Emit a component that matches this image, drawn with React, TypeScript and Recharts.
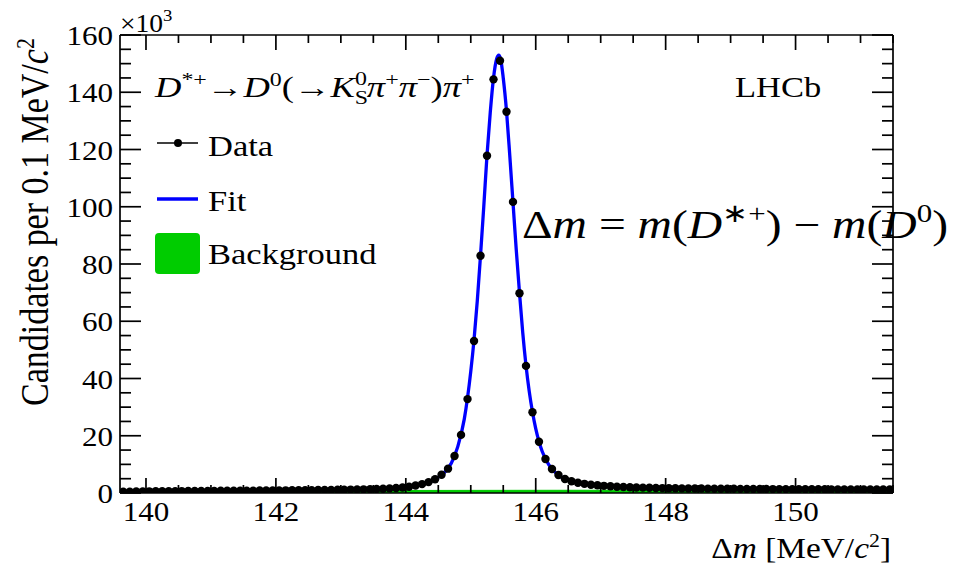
import React from 'react';
import { ComposedChart, XAxis, YAxis, Line, Scatter, Area } from 'recharts';

// bin centres of Δm [MeV/c²], 0.1 MeV bins
const binCenters = [
  139.65, 139.75, 139.85, 139.95, 140.05, 140.15, 140.25, 140.35, 140.45, 140.55,
  140.65, 140.75, 140.85, 140.95, 141.05, 141.15, 141.25, 141.35, 141.45, 141.55,
  141.65, 141.75, 141.85, 141.95, 142.05, 142.15, 142.25, 142.35, 142.45, 142.55,
  142.65, 142.75, 142.85, 142.95, 143.05, 143.15, 143.25, 143.35, 143.45, 143.55,
  143.65, 143.75, 143.85, 143.95, 144.05, 144.15, 144.25, 144.35, 144.45, 144.55,
  144.65, 144.75, 144.85, 144.95, 145.05, 145.15, 145.25, 145.35, 145.45, 145.55,
  145.65, 145.75, 145.85, 145.95, 146.05, 146.15, 146.25, 146.35, 146.45, 146.55,
  146.65, 146.75, 146.85, 146.95, 147.05, 147.15, 147.25, 147.35, 147.45, 147.55,
  147.65, 147.75, 147.85, 147.95, 148.05, 148.15, 148.25, 148.35, 148.45, 148.55,
  148.65, 148.75, 148.85, 148.95, 149.05, 149.15, 149.25, 149.35, 149.45, 149.55,
  149.65, 149.75, 149.85, 149.95, 150.05, 150.15, 150.25, 150.35, 150.45, 150.55,
  150.65, 150.75, 150.85, 150.95, 151.05, 151.15, 151.25, 151.35, 151.45,
];

// candidates per bin (×10³)
const candidates = [
  0.42, 0.48, 0.52, 0.55, 0.58, 0.6, 0.62, 0.63, 0.66, 0.67,
  0.69, 0.7, 0.72, 0.73, 0.75, 0.76, 0.78, 0.79, 0.81, 0.82,
  0.84, 0.86, 0.87, 0.89, 0.91, 0.93, 0.95, 0.97, 0.99, 1.01,
  1.04, 1.06, 1.09, 1.12, 1.15, 1.19, 1.23, 1.28, 1.34, 1.41,
  1.5, 1.61, 1.75, 1.92, 2.2, 2.6, 3.1, 3.8, 4.8, 6.4,
  8.5, 12.9, 20.3, 32.8, 53.1, 82.9, 117.8, 144.5, 151.0, 133.2,
  101.7, 69.8, 44.4, 28.2, 17.9, 11.9, 8.4, 6.3, 4.9, 4.1,
  3.6, 3.2, 2.9, 2.7, 2.5, 2.35, 2.2, 2.1, 2.0, 1.93,
  1.87, 1.81, 1.76, 1.72, 1.68, 1.65, 1.62, 1.59, 1.57, 1.55,
  1.53, 1.51, 1.49, 1.47, 1.46, 1.44, 1.43, 1.41, 1.4, 1.39,
  1.37, 1.36, 1.35, 1.34, 1.33, 1.32, 1.31, 1.3, 1.29, 1.28,
  1.27, 1.27, 1.26, 1.25, 1.24, 1.24, 1.23, 1.22, 1.22,
];

// fit curve (×10³)
const fitX = [
  139.6, 140.0, 140.5, 141.0, 141.5, 142.0, 142.5, 143.0, 143.5, 143.8,
  144.0, 144.2, 144.4, 144.5, 144.6, 144.7, 144.8, 144.9, 145.0, 145.05,
  145.1, 145.15, 145.2, 145.25, 145.3, 145.35, 145.4, 145.43, 145.46, 145.5,
  145.55, 145.6, 145.65, 145.7, 145.75, 145.8, 145.85, 145.9, 145.95, 146.0,
  146.05, 146.1, 146.2, 146.3, 146.4, 146.5, 146.7, 147.0, 147.5, 148.0,
  149.0, 150.0, 151.5,
];
const fitY = [
  0.4, 0.57, 0.67, 0.75, 0.82, 0.9, 1.0, 1.14, 1.38, 1.72,
  2.05, 2.8, 4.2, 5.5, 7.3, 10.4, 16.2, 25.8, 42.5, 53.5,
  67.0, 83.0, 100.0, 118.0, 133.0, 145.0, 151.8, 153.0, 151.6, 145.0,
  133.5, 118.0, 101.5, 85.0, 70.0, 56.0, 44.6, 35.5, 28.3, 22.5,
  18.0, 14.5, 9.9, 7.2, 5.5, 4.4, 3.35, 2.6, 1.97, 1.7,
  1.46, 1.33, 1.21,
];

// background component (×10³)
const bkgX = [139.6, 140.0, 140.5, 141.0, 141.5, 142.0, 143.0, 144.0, 145.0, 146.0, 147.0, 148.0, 149.0, 150.0, 151.5];
const bkgY = [0.3, 0.48, 0.58, 0.66, 0.72, 0.77, 0.84, 0.88, 0.92, 0.94, 0.96, 0.97, 0.98, 0.98, 0.99];

const xMajorTicks = [140, 142, 144, 146, 148, 150];
const xAllTicks = [
  140, 140.5, 141, 141.5, 142, 142.5, 143, 143.5, 144, 144.5, 145, 145.5,
  146, 146.5, 147, 147.5, 148, 148.5, 149, 149.5, 150, 150.5, 151, 151.5,
];
const yMajorTicks = [0, 20, 40, 60, 80, 100, 120, 140, 160];
const yAllTicks = [
  0, 5, 10, 15, 20, 25, 30, 35, 40, 45, 50, 55, 60, 65, 70, 75, 80,
  85, 90, 95, 100, 105, 110, 115, 120, 125, 130, 135, 140, 145, 150, 155, 160,
];

const dataPts = binCenters.map((x, i) => ({ x, y: candidates[i] }));
const fitPts = fitX.map((x, i) => ({ x, y: fitY[i] }));
const bkgPts = bkgX.map((x, i) => ({ x, y: bkgY[i] }));

const FONT = '"Liberation Serif", "Times New Roman", serif';
const SX = 1.15;
const TICK_FS = 27;
const LW = 1.7;

const BottomTick = (props: any) => {
  const { x, y, payload } = props;
  const v = payload.value;
  const major = xMajorTicks.includes(v);
  return (
    <g>
      <line x1={x} x2={x} y1={y} y2={y - (major ? 15 : 8)} stroke="#000" strokeWidth={LW} />
      {major && (
        <text transform={`translate(${x},${y + 28}) scale(${SX},1)`} textAnchor="middle" fontFamily={FONT} fontSize={TICK_FS} fill="#000">
          {v}
        </text>
      )}
    </g>
  );
};

const TopTick = (props: any) => {
  const { x, y, payload } = props;
  const major = xMajorTicks.includes(payload.value);
  return <line x1={x} x2={x} y1={y} y2={y + (major ? 15 : 8)} stroke="#000" strokeWidth={LW} />;
};

const LeftTick = (props: any) => {
  const { x, y, payload } = props;
  const v = payload.value;
  const major = yMajorTicks.includes(v);
  return (
    <g>
      <line x1={x} x2={x + (major ? 21 : 11)} y1={y} y2={y} stroke="#000" strokeWidth={LW} />
      {major && (
        <text transform={`translate(${x - 7},${y + 10}) scale(${SX},1)`} textAnchor="end" fontFamily={FONT} fontSize={TICK_FS} fill="#000">
          {v}
        </text>
      )}
    </g>
  );
};

const RightTick = (props: any) => {
  const { x, y, payload } = props;
  const major = yMajorTicks.includes(payload.value);
  return <line x1={x} x2={x - (major ? 21 : 11)} y1={y} y2={y} stroke="#000" strokeWidth={LW} />;
};

const Dot = (p: any) => <circle cx={p.cx} cy={p.cy} r={4.2} fill="#000" />;

const axisLine = { stroke: '#000', strokeWidth: LW };

export default function App() {
  return (
    <div style={{ position: 'absolute', left: 0, top: 0, width: 969, height: 570, background: '#fff' }}>
      <ComposedChart width={969} height={570} margin={{ top: 34, right: 75, bottom: 0, left: 0 }}>
        <XAxis
          xAxisId="b"
          dataKey="x"
          type="number"
          orientation="bottom"
          domain={[139.6, 151.5]}
          allowDataOverflow
          ticks={xAllTicks}
          interval={0}
          height={77}
          tickSize={0}
          tickMargin={0}
          tickLine={false}
          axisLine={axisLine}
          tick={<BottomTick />}
        />
        <XAxis
          xAxisId="t"
          dataKey="x"
          type="number"
          orientation="top"
          domain={[139.6, 151.5]}
          allowDataOverflow
          ticks={xAllTicks}
          interval={0}
          height={1}
          tickSize={0}
          tickMargin={0}
          tickLine={false}
          axisLine={axisLine}
          tick={<TopTick />}
        />
        <YAxis
          yAxisId="l"
          type="number"
          orientation="left"
          domain={[0, 160]}
          allowDataOverflow
          ticks={yAllTicks}
          interval={0}
          width={120}
          tickSize={0}
          tickMargin={0}
          tickLine={false}
          axisLine={axisLine}
          tick={<LeftTick />}
        />
        <YAxis
          yAxisId="r"
          type="number"
          orientation="right"
          domain={[0, 160]}
          allowDataOverflow
          ticks={yAllTicks}
          interval={0}
          width={1}
          tickSize={0}
          tickMargin={0}
          tickLine={false}
          axisLine={axisLine}
          tick={<RightTick />}
        />
        <Area
          xAxisId="b"
          yAxisId="l"
          data={bkgPts}
          dataKey="y"
          type="monotone"
          fill="#00cc00"
          fillOpacity={1}
          stroke="#00cc00"
          strokeWidth={1}
          isAnimationActive={false}
        />
        <Line
          xAxisId="b"
          yAxisId="l"
          data={fitPts}
          dataKey="y"
          type="monotone"
          stroke="#0000ff"
          strokeWidth={3.3}
          dot={false}
          activeDot={false}
          isAnimationActive={false}
        />
        <Scatter xAxisId="b" yAxisId="l" data={dataPts} dataKey="y" shape={<Dot />} isAnimationActive={false} />
      </ComposedChart>

      <svg width={969} height={570} style={{ position: 'absolute', left: 0, top: 0, pointerEvents: 'none' }} fontFamily={FONT} fill="#000">
        {/* exponent */}
        <text transform={`translate(120,32) scale(1.1,1)`} fontSize={25}>×10</text>
        <text transform={`translate(163,21) scale(1.1,1)`} fontSize={17}>3</text>

        {/* y-axis title */}
        <text transform={`translate(48,222) rotate(-90) scale(1,${SX})`} textAnchor="middle" fontSize={34}>
          Candidates per 0.1 MeV/<tspan fontStyle="italic">c</tspan>
          <tspan fontSize={22} dy={-12}>2</tspan>
        </text>

        {/* x-axis title */}
        <text transform={`translate(891,558) scale(${SX},1)`} textAnchor="end" fontSize={29}>
          Δ<tspan fontStyle="italic">m</tspan> [MeV/<tspan fontStyle="italic">c</tspan>
          <tspan fontSize={19} dy={-11}>2</tspan>
          <tspan dy={11}>]</tspan>
        </text>

        {/* decay title */}
        <text transform={`translate(155,97) scale(1.26,1)`} fontSize={29}>
          <tspan fontStyle="italic">D</tspan>
          <tspan fontSize={19} dy={-11}>*+</tspan>
          <tspan dy={11}>→</tspan>
          <tspan fontStyle="italic">D</tspan>
          <tspan fontSize={19} dy={-11}>0</tspan>
          <tspan dy={11}>(→</tspan>
          <tspan fontStyle="italic">K</tspan>
          <tspan fontSize={19} dy={7}>S</tspan>
          <tspan fontSize={19} dx={-10.5} dy={-19}>0</tspan>
          <tspan fontStyle="italic" dy={12}>π</tspan>
          <tspan fontSize={19} dy={-11}>+</tspan>
          <tspan fontStyle="italic" dy={11}>π</tspan>
          <tspan fontSize={19} dy={-11}>−</tspan>
          <tspan dy={11}>)</tspan>
          <tspan fontStyle="italic">π</tspan>
          <tspan fontSize={19} dy={-11}>+</tspan>
        </text>

        {/* LHCb */}
        <text transform={`translate(735,97) scale(${SX},1)`} fontSize={30}>LHCb</text>

        {/* legend */}
        <line x1={157} x2={198} y1={143} y2={143} stroke="#000" strokeWidth={1.5} />
        <circle cx={178} cy={143} r={4} fill="#000" />
        <text transform={`translate(208,156) scale(${SX},1)`} fontSize={30}>Data</text>
        <line x1={157} x2={198} y1={199} y2={199} stroke="#0000ff" strokeWidth={3.5} />
        <text transform={`translate(208,211) scale(${SX},1)`} fontSize={30}>Fit</text>
        <rect x={155} y={233} width={45} height={41} rx={4} fill="#00cc00" />
        <text transform={`translate(208,264) scale(${SX},1)`} fontSize={30}>Background</text>

        {/* Δm definition */}
        <text transform={`translate(522,238) scale(1.19,1)`} fontSize={40}>
          Δ<tspan fontStyle="italic">m</tspan> = <tspan fontStyle="italic">m</tspan>(<tspan fontStyle="italic">D</tspan>
          <tspan fontSize={26} dy={-16}>∗+</tspan>
          <tspan dy={16}>) − </tspan>
          <tspan fontStyle="italic">m</tspan>(<tspan fontStyle="italic">D</tspan>
          <tspan fontSize={26} dy={-16}>0</tspan>
          <tspan dy={16}>)</tspan>
        </text>
      </svg>
    </div>
  );
}
